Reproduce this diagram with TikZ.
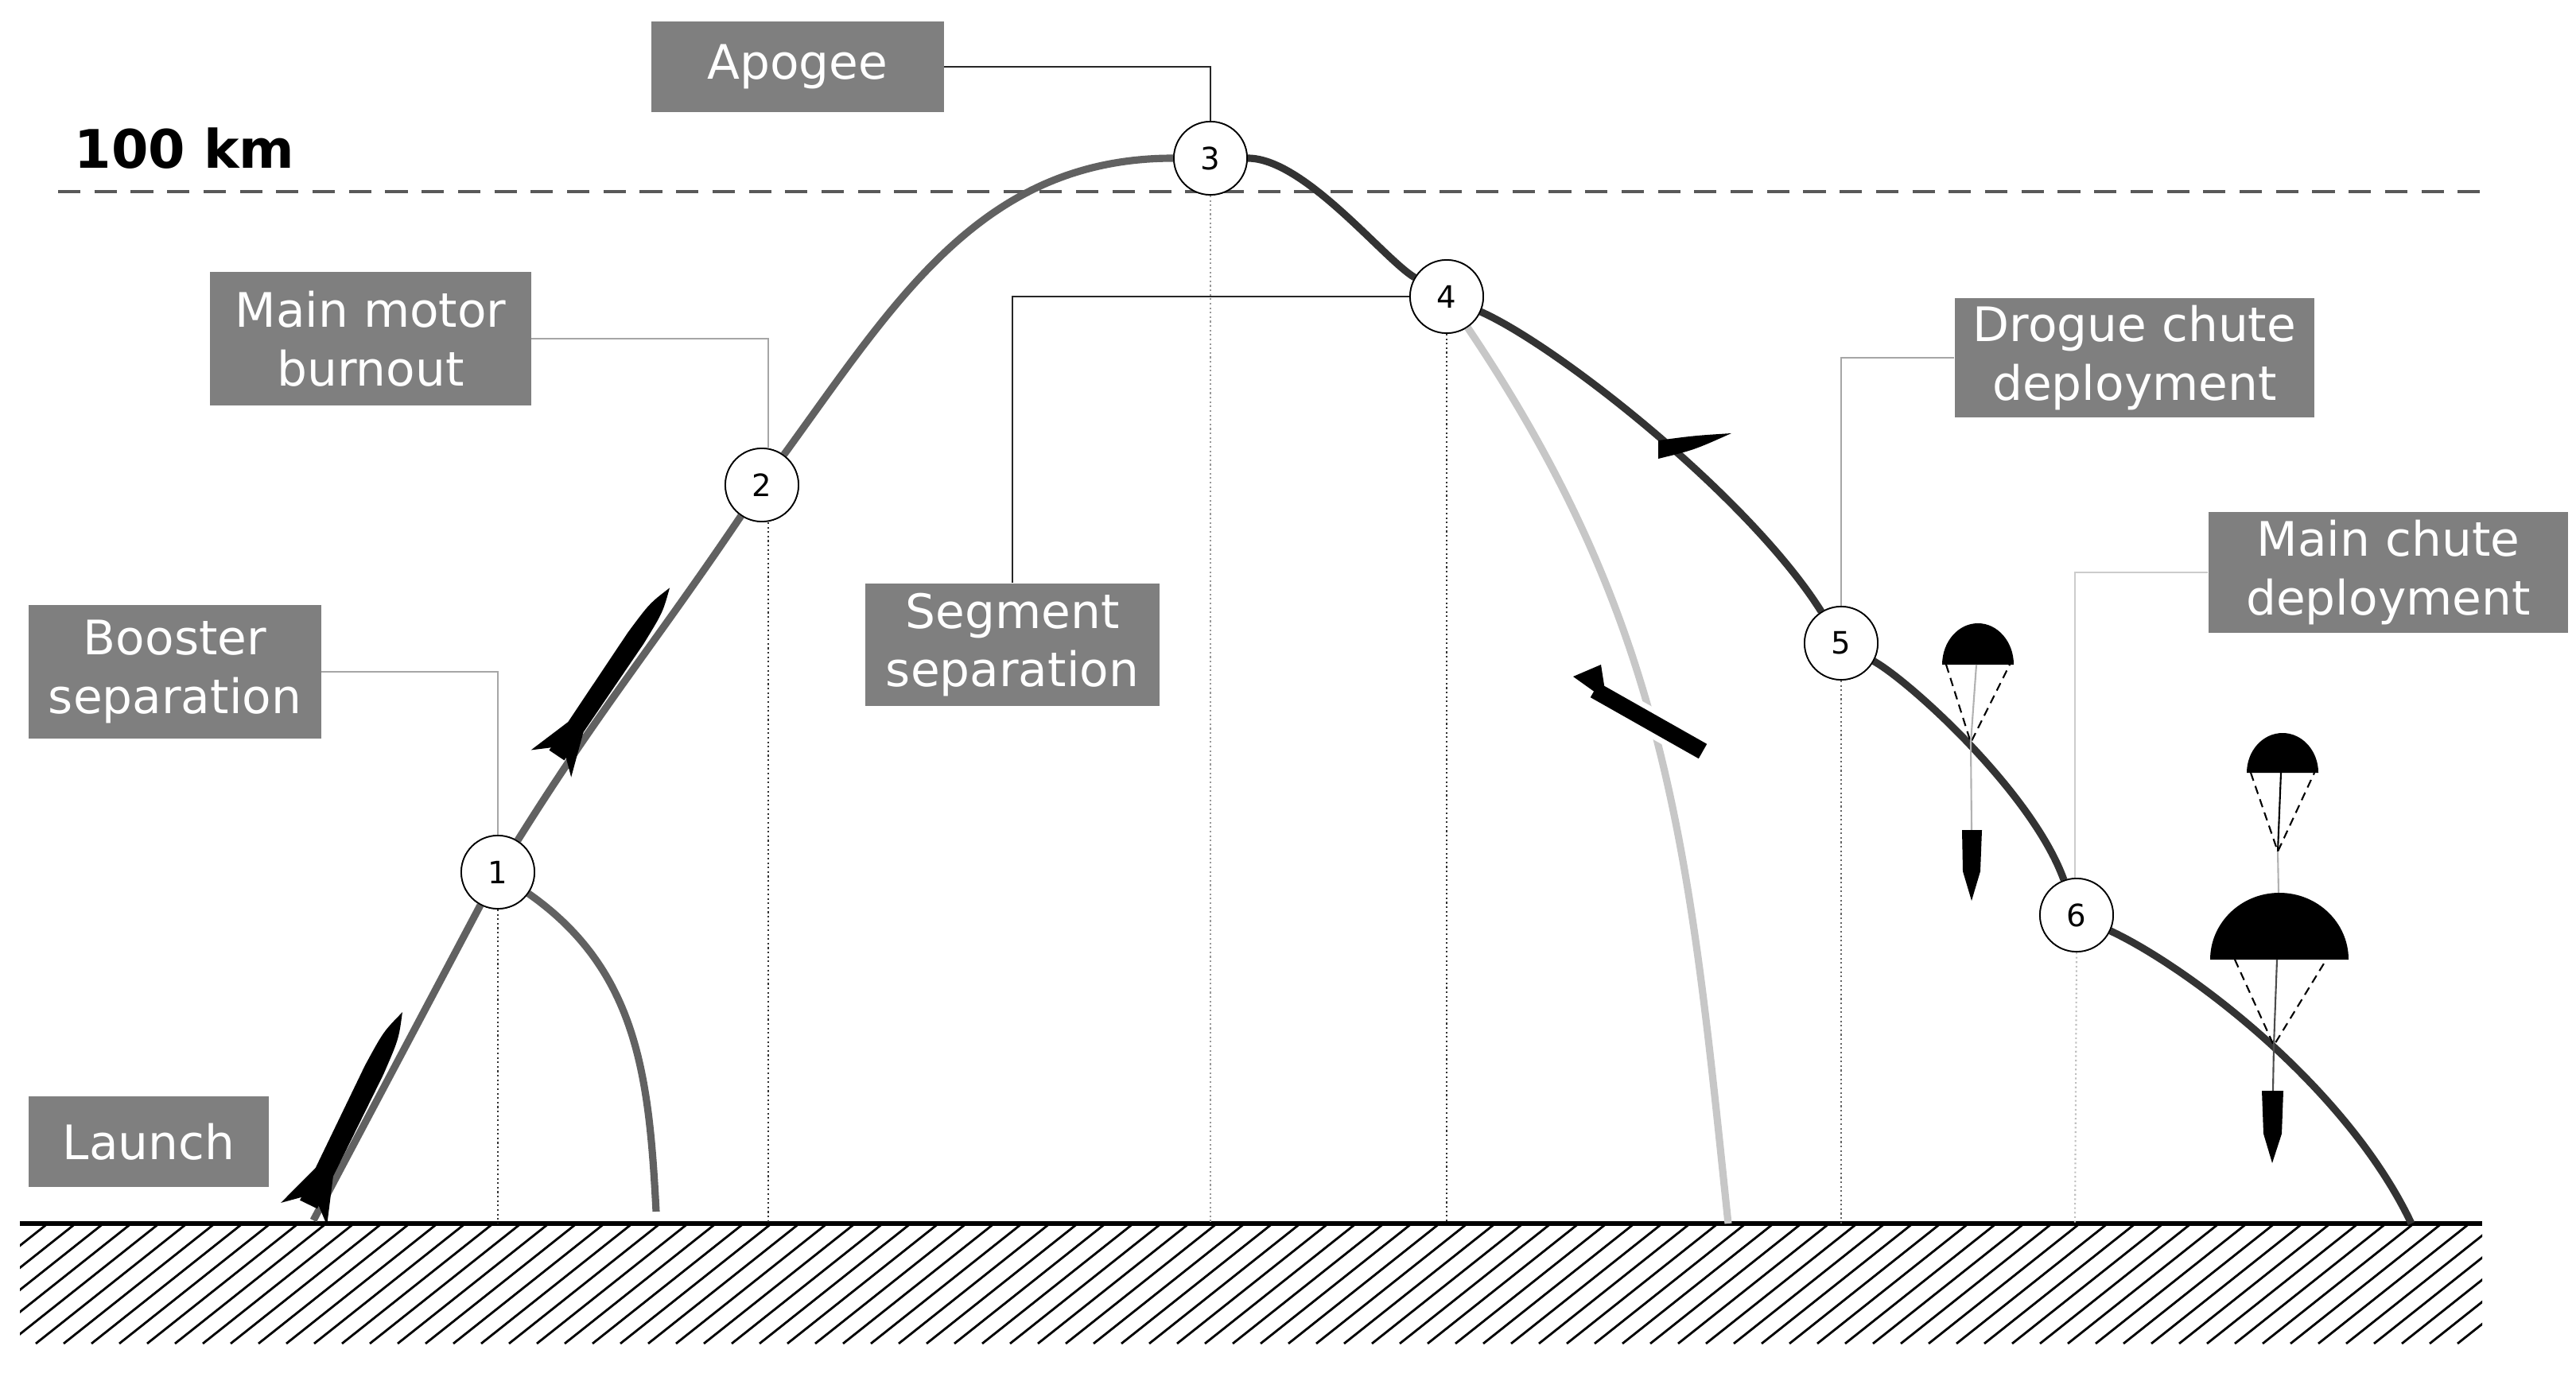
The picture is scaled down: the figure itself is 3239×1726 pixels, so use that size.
\documentclass[tikz,border=0pt]{standalone}
\usepackage{fontspec}
\setmainfont{DejaVu Sans}
\begin{document}
\begin{tikzpicture}[x=0.01cm,y=0.01cm,
  lbl/.style={fill=boxgray,text=white,inner sep=0pt,align=center,font=\fontsize{17}{21}\selectfont},
  num/.style={circle,draw=black,line width=0.5pt,fill=white,minimum size=0.92cm,inner sep=0pt,font=\fontsize{11}{13}\selectfont},
  lead/.style={line width=0.6pt,draw=gray!70},
  leaddark/.style={line width=0.6pt,draw=black!85},
  vdot/.style={line width=0.6pt,densely dotted,draw=black!80},
  asc/.style={line width=2.6pt,draw=black!62},
  desc/.style={line width=2.6pt,draw=black!80},
  cord/.style={line width=0.6pt,densely dashed},
]
\definecolor{boxgray}{HTML}{7F7F7F}
\useasboundingbox (0,0) rectangle (3239,1726);
% ground and hatch
\begin{scope}
\clip (25,36) rectangle (3121,187);
\foreach \i in {-200,-165,...,3150} \draw[line width=0.8pt] (\i,36) -- ++(190,151);
\end{scope}
\draw[line width=1.8pt] (25,187) -- (3121,187);
% 100 km
\draw[line width=0.9pt,dash pattern=on 8pt off 5pt,draw=black!65] (73,1485) -- (3121,1485);
\node[font=\bfseries\fontsize{19}{22}\selectfont,anchor=center] (km) at (232,1539) {100 km};
% circles
\node[num] (n1) at (626,629) {1};
\node[num] (n2) at (958,1116) {2};
\node[num] (n3) at (1522,1527) {3};
\node[num] (n4) at (1819,1353) {4};
\node[num] (n5) at (2315,917) {5};
\node[num] (n6) at (2611,575) {6};
\coordinate (L) at (394,191);
\coordinate (E) at (3032,187);
\coordinate (B) at (825,202);
\coordinate (S) at (2173,187);
\coordinate (g1) at (626,187);
\coordinate (g2) at (966,187);
\coordinate (g3) at (1522,187);
\coordinate (g4) at (1819,187);
\coordinate (g5) at (2315,187);
\coordinate (g6) at (2609,187);
\draw[vdot] (n1.south) -- (g1);
\draw[vdot] (n2.south -| g2) -- (g2);
\draw[vdot,draw=black!40] (n3.south) -- (g3);
\draw[vdot] (n4.south) -- (g4);
\draw[vdot,draw=black!60] (n5.south) -- (g5);
\draw[vdot,draw=black!25] (n6.south) -- (g6);
% trajectories
\draw[line width=2.6pt,draw=black!22] (n4) to[out=-56,in=96] (S);
\draw[asc] (n1) to[out=-35,in=93] (B);
\draw[asc] (L) -- (n1);
\draw[asc] (n1) to[out=58,in=236] (n2);
\draw[asc] (n2) to[out=54,in=180] (n3);
\draw[desc] (n3) .. controls (1640,1527) and (1740,1400) .. (n4);
\draw[desc] (n4) .. controls (1960,1290) and (2200,1100) .. (n5);
\draw[desc] (n5) .. controls (2400,870) and (2555,730) .. (n6);
\draw[desc] (n6) .. controls (2750,510) and (2950,360) .. (E);
% redraw circles on top
\foreach \n/\t in {n1/1,n2/2,n3/3,n4/4,n5/5,n6/6} \node[num] at (\n) {\t};
% rockets
\foreach \x/\y/\a/\l in {388/211/64/269, 700/776/56/254}{
\begin{scope}[shift={(\x,\y)},rotate=\a,scale=\l]
\draw[white,line width=4pt] (-0.02,0) -- (1.05,0);
\fill (0,-0.045) -- (0.7,-0.048) .. controls (0.88,-0.04) .. (1,0) .. controls (0.88,0.04) .. (0.7,0.048) -- (0,0.045) -- cycle;
\fill (0.02,0.04) -- (-0.05,0.12) -- (0.17,0.045) -- cycle;
\fill (0.02,-0.04) -- (-0.05,-0.12) -- (0.17,-0.045) -- cycle;
\end{scope}}
% drogue nose segment
\draw[white,line width=5pt] (2078,1161) -- (2195,1181);
\fill (2085,1172) -- (2085,1149) .. controls (2130,1160) .. (2177,1181) .. controls (2130,1178) .. cycle;
% separated segment
\draw[white,line width=10pt] (1990,866) -- (2150,776);
\draw[line width=6pt,line cap=butt] (2005,858) -- (2141,781);
\fill (1978,875) -- (2013,890) -- (2020,845) -- cycle;
% drogue parachute
\fill (2442,890) arc[start angle=180,end angle=0,x radius=45,y radius=52] -- cycle;
\draw[cord] (2447,890) -- (2478,792) -- (2527,890);
\draw[line width=0.6pt,draw=gray!60] (2485,890) -- (2478,792) -- (2479,682);
\fill (2467,682) -- (2492,682) -- (2490,630) -- (2479,593) -- (2468,630) -- cycle;
% main chute: small + big
\fill (2825,754) arc[start angle=180,end angle=0,x radius=45,y radius=50] -- cycle;
\draw[cord] (2830,754) -- (2864,655) -- (2910,754);
\draw[line width=0.6pt] (2868,754) -- (2864,655);
\draw[line width=0.6pt,draw=gray!60] (2864,655) -- (2865,603);
\fill (2779,519) arc[start angle=180,end angle=0,x radius=87,y radius=84] -- cycle;
\draw[cord] (2810,519) -- (2859,411) -- (2925,519);
\draw[line width=0.6pt,draw=black!70] (2863,519) -- (2859,411) -- (2858,354);
\fill (2844,354) -- (2871,354) -- (2869,300) -- (2857,263) -- (2846,300) -- cycle;
% labels
\node[lbl,minimum width=3.67cm,minimum height=1.14cm] (apo) at (1003,1642) {Apogee};
\node[lbl,minimum width=4.03cm,minimum height=1.68cm] (mmb) at (466,1300) {Main motor\\burnout};
\node[lbl,minimum width=3.67cm,minimum height=1.68cm] (bs) at (220,881) {Booster\\separation};
\node[lbl,minimum width=3.01cm,minimum height=1.14cm] (la) at (187,290) {Launch};
\node[lbl,minimum width=3.69cm,minimum height=1.54cm] (seg) at (1273,915) {Segment\\separation};
\node[lbl,minimum width=4.52cm,minimum height=1.50cm] (dr) at (2684,1276) {Drogue chute\\deployment};
\node[lbl,minimum width=4.52cm,minimum height=1.51cm] (mc) at (3003,1006) {Main chute\\deployment};
% leaders
\draw[leaddark] (apo.east) -| (n3.north);
\draw[lead] (mmb.east) -| (n2.north -| g2);
\draw[lead] (bs.east) -| (n1.north);
\draw[leaddark] (seg.north) |- (n4.west);
\draw[lead] (dr.west) -| (n5.north);
\draw[lead,draw=gray!40] (mc.west) -| (n6.north -| g6);
\end{tikzpicture}
\end{document}
